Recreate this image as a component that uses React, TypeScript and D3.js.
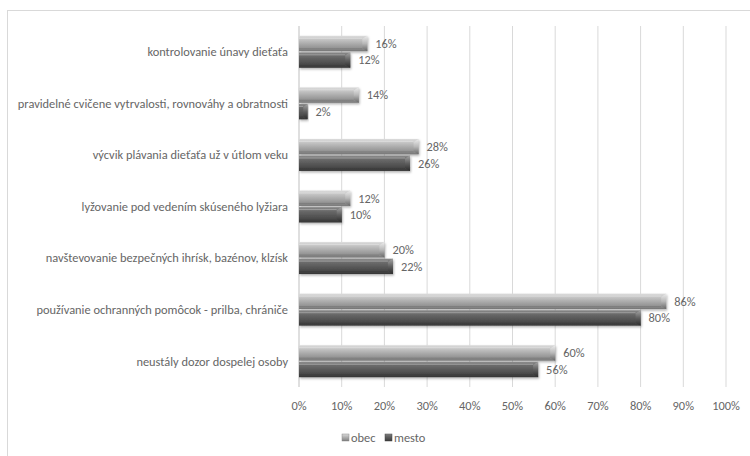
import React from "react";
import * as d3 from "d3";

const categories = [
  "kontrolovanie únavy dieťaťa",
  "pravidelné cvičene vytrvalosti, rovnováhy a obratnosti",
  "výcvik plávania dieťaťa už v útlom veku",
  "lyžovanie pod vedením skúseného lyžiara",
  "navštevovanie bezpečných ihrísk, bazénov, klzísk",
  "používanie ochranných pomôcok - prilba, chrániče",
  "neustály dozor dospelej osoby",
];
const obec = [0.16, 0.14, 0.28, 0.12, 0.2, 0.86, 0.6];
const mesto = [0.12, 0.02, 0.26, 0.1, 0.22, 0.8, 0.56];
const seriesNames = ["obec", "mesto"];
const ticks = [0, 0.1, 0.2, 0.3, 0.4, 0.5, 0.6, 0.7, 0.8, 0.9, 1.0];

const FONT = "Carlito, Lato, sans-serif";
const TXT = "#666666";
const FS = 12.4;

export default function App() {
  const x = d3.scaleLinear().domain([0, 1]).range([299, 726]);
  const y = d3.scaleBand<string>().domain(categories).range([26, 387]);
  const inner = d3
    .scaleBand<string>()
    .domain(seriesNames)
    .range([y.bandwidth() / 2 - 16, y.bandwidth() / 2 + 16])
    .paddingInner(0.07);
  const fmt = d3.format(".0%");
  const data = [obec, mesto];

  const bar = (v: number, cat: string, s: string, key: string) => {
    const y0 = (y(cat) as number) + (inner(s) as number);
    const h = inner.bandwidth();
    const x0 = x(0);
    const x1 = x(v);
    const w = x1 - x0;
    const cap = Math.min(5, w / 2);
    const grad = s === "obec" ? "gObec" : "gMesto";
    const capG = s === "obec" ? "cObec" : "cMesto";
    return (
      <g key={key}>
        <g filter="url(#shadow)">
          <rect x={x0} y={y0} width={w} height={h} fill={`url(#${grad})`} />
        </g>
        <polygon
          points={`${x1 - cap},${y0 + 3} ${x1},${y0} ${x1},${y0 + h} ${x1 - cap},${y0 + h - 3}`}
          fill={`url(#${capG})`}
        />
        <line x1={x0} x2={x1 - cap} y1={y0 + 2.5} y2={y0 + 2.5} stroke="#ffffff" strokeOpacity={0.3} />
        <line x1={x0} x2={x1 - cap} y1={y0 + h - 2.5} y2={y0 + h - 2.5} stroke="#000" strokeOpacity={0.12} />
        <text
          x={x1 + 8}
          y={y0 + h / 2}
          dy="0.35em"
          fontSize={FS}
          fill={TXT}
          fontFamily={FONT}
        >
          {fmt(v)}
        </text>
      </g>
    );
  };

  return (
    <svg
      width={750}
      height={456}
      style={{ position: "absolute", left: 0, top: 0, background: "#fff" }}
    >
      <defs>
        <linearGradient id="gObec" x1="0" y1="0" x2="0" y2="1">
          <stop offset="0" stopColor="#dcdcdc" />
          <stop offset="0.2" stopColor="#c8c8c8" />
          <stop offset="0.55" stopColor="#a8a8a8" />
          <stop offset="0.85" stopColor="#8e8e8e" />
          <stop offset="1" stopColor="#737373" />
        </linearGradient>
        <linearGradient id="gMesto" x1="0" y1="0" x2="0" y2="1">
          <stop offset="0" stopColor="#8e8e8e" />
          <stop offset="0.2" stopColor="#6e6e6e" />
          <stop offset="0.55" stopColor="#575757" />
          <stop offset="0.85" stopColor="#454545" />
          <stop offset="1" stopColor="#333333" />
        </linearGradient>
        <linearGradient id="cObec" x1="0" y1="0" x2="0" y2="1">
          <stop offset="0" stopColor="#ededed" />
          <stop offset="0.5" stopColor="#b8b8b8" />
          <stop offset="1" stopColor="#666666" />
        </linearGradient>
        <linearGradient id="cMesto" x1="0" y1="0" x2="0" y2="1">
          <stop offset="0" stopColor="#a5a5a5" />
          <stop offset="0.5" stopColor="#606060" />
          <stop offset="1" stopColor="#2a2a2a" />
        </linearGradient>
        <filter id="shadow" x="-5%" y="-30%" width="115%" height="170%">
          <feDropShadow dx="1" dy="1.5" stdDeviation="1" floodColor="#000" floodOpacity="0.3" />
        </filter>
      </defs>

      <rect x={7.5} y={10.5} width={760} height={460} fill="#fff" stroke="#d9d9d9" />

      {ticks.map((t) => (
        <g key={t}>
          <line
            x1={x(t)}
            x2={x(t)}
            y1={26}
            y2={387}
            stroke={t === 0 ? "#bfbfbf" : "#d9d9d9"}
          />
          <text
            x={x(t)}
            y={406}
            dy="0.35em"
            textAnchor="middle"
            fontSize={FS}
            fill={TXT}
            fontFamily={FONT}
          >
            {fmt(t)}
          </text>
        </g>
      ))}

      {categories.map((c) => (
        <text
          key={c}
          x={288}
          y={(y(c) as number) + y.bandwidth() / 2}
          dy="0.35em"
          textAnchor="end"
          fontSize={FS}
          fill={TXT}
          fontFamily={FONT}
        >
          {c}
        </text>
      ))}

      {categories.map((c, i) =>
        seriesNames.map((s, j) => bar(data[j][i], c, s, `${c}-${s}`))
      )}

      <g fontFamily={FONT} fontSize={FS} fill={TXT}>
        <rect x={342} y={434} width={7} height={7} fill="url(#gObec)" stroke="#8a8a8a" strokeWidth={0.5} />
        <text x={351} y={437.5} dy="0.35em">obec</text>
        <rect x={385} y={434} width={7} height={7} fill="url(#gMesto)" stroke="#444" strokeWidth={0.5} />
        <text x={394} y={437.5} dy="0.35em">mesto</text>
      </g>
    </svg>
  );
}
